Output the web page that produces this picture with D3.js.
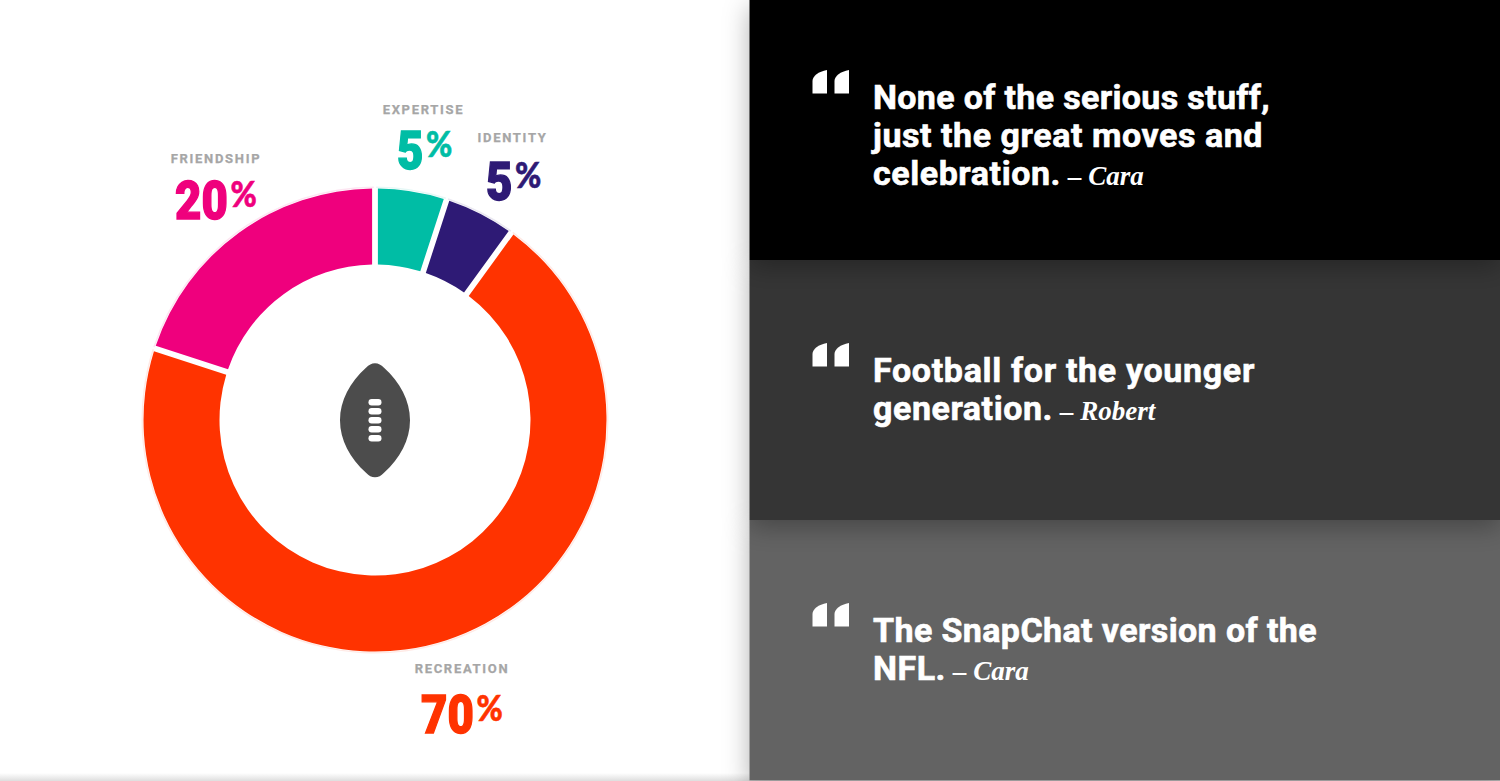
<!DOCTYPE html>
<html>
<head>
<meta charset="utf-8">
<script src="https://cdnjs.cloudflare.com/ajax/libs/d3/7.8.5/d3.min.js"></script>
<style>
  html, body { margin: 0; padding: 0; background: #fff; overflow: hidden; }
  svg { display: block; }
  text { font-family: Roboto, "Liberation Sans", sans-serif; }
</style>
</head>
<body>
<svg id="chart" width="1500" height="781"></svg>
<script>
// Shares of what viewers said the game offers, clockwise from twelve o'clock
const categories = ["EXPERTISE", "IDENTITY", "RECREATION", "FRIENDSHIP"];
const shares = [5, 5, 70, 20];
const sliceColors = ["#00bda5", "#2e1a75", "#ff3300", "#ef007d"];

// Pull quotes: each line of body copy, then the attribution
const quoteLines = [
  ["None of the serious stuff,", "just the great moves and", "celebration."],
  ["Football for the younger", "generation."],
  ["The SnapChat version of the", "NFL."]
];
const quoteAuthors = ["Cara", "Robert", "Cara"];
const panelFills = ["#000000", "#343434", "#646464"];

const svg = d3.select("#chart");
const defs = svg.append("defs");

const shadow = defs.append("filter").attr("id", "panelShadow")
  .attr("x", "-10%").attr("y", "-25%").attr("width", "120%").attr("height", "160%");
shadow.append("feDropShadow").attr("dx", 0).attr("dy", 7).attr("stdDeviation", 13)
  .attr("flood-color", "#000").attr("flood-opacity", 0.3);

// Faint strip along the bottom of the page
const strip = defs.append("linearGradient").attr("id", "footStrip")
  .attr("x1", 0).attr("x2", 0).attr("y1", 0).attr("y2", 1);
strip.append("stop").attr("offset", 0).attr("stop-color", "#fff");
strip.append("stop").attr("offset", 1).attr("stop-color", "#dedede");
svg.append("rect").attr("x", 0).attr("y", 773).attr("width", 750).attr("height", 8)
  .attr("fill", "url(#footStrip)");

// Donut
const cx = 375, cy = 420, outerR = 231.5, innerR = 155.5;
const donut = svg.append("g").attr("transform", `translate(${cx},${cy})`);
const pie = d3.pie().sort(null).value(d => d)(shares);
const arc = d3.arc().innerRadius(innerR).outerRadius(outerR).padAngle(0.025).padRadius(232);

// Hairline halo just outside each slice
const halo = d3.arc().innerRadius(outerR + 0.5).outerRadius(outerR + 2).padAngle(0.01).padRadius(232);
donut.selectAll("path.halo").data(pie).join("path")
  .attr("class", "halo").attr("d", halo)
  .attr("fill", (d, i) => sliceColors[i]).attr("opacity", 0.1);

donut.selectAll("path.slice").data(pie).join("path")
  .attr("class", "slice").attr("d", arc)
  .attr("fill", (d, i) => sliceColors[i]);

// Football in the hole of the donut
const ball = svg.append("g").attr("transform", `translate(${cx},${cy + 0.3})`);
ball.append("path")
  .attr("d", "M0,-57 C3.5,-57 6,-55.5 9,-52.5 C25,-38 35,-20 35,0 C35,20 25,38 9,52.5 C6,55.5 3.5,57 0,57 C-3.5,57 -6,55.5 -9,52.5 C-25,38 -35,20 -35,0 C-35,-20 -25,-38 -9,-52.5 C-6,-55.5 -3.5,-57 0,-57 Z")
  .attr("fill", "#4c4c4c");
ball.selectAll("rect").data(d3.range(5)).join("rect")
  .attr("x", -6.5).attr("width", 13).attr("height", 6.4).attr("rx", 3.2)
  .attr("y", d => -18 + d * 9 - 3.2)
  .attr("fill", "#fff");

// Category captions and percentages, each a numeral plus a raised percent sign
const captionCenters = [[423.5, 114], [512.5, 142], [462, 673], [216, 163]];
const valueOrigins = [[397, 169], [486, 200], [421, 733], [175, 219]];
const narrowing = 0.86;
categories.forEach((name, i) => {
  const [x, yName] = captionCenters[i];
  svg.append("text").attr("x", x).attr("y", yName)
    .attr("text-anchor", "middle")
    .attr("font-size", 13).attr("font-weight", 700)
    .attr("letter-spacing", 1.7).attr("fill", "#a6a6a6")
    .attr("stroke", "#a6a6a6").attr("stroke-width", 0.25)
    .text(name);
  const [vx, vy] = valueOrigins[i];
  const value = svg.append("text")
    .attr("transform", `translate(${vx},${vy}) scale(${narrowing},1)`)
    .attr("font-size", 53).attr("font-weight", 900)
    .attr("fill", sliceColors[i])
    .attr("stroke", sliceColors[i]).attr("stroke-width", 1.4);
  value.append("tspan").text(shares[i]);
  value.append("tspan")
    .style("font-family", "Lato, Roboto, sans-serif")
    .attr("font-size", 37).attr("dx", 3).attr("dy", -12)
    .attr("stroke-width", 0.6)
    .text("%");
});

// Quote panels: bottom one first so each upper panel's shadow falls on the next
const panelTop = [0, 260, 520], panelHeight = [260, 260, 260.5];
[2, 1, 0].forEach(i => {
  svg.append("rect").attr("x", 749.5).attr("y", panelTop[i])
    .attr("width", 750.5).attr("height", panelHeight[i])
    .attr("fill", panelFills[i]).attr("filter", "url(#panelShadow)");
});

const firstBaseline = [109, 382, 642];
const lineGap = 38;
// Set width of each body line, so the copy keeps its measure
const lineWidths = [[397, 390, 188], [382, 180], [444, 73]];
quoteLines.forEach((lines, i) => {
  const g = svg.append("g");
  // Opening quotation mark: two wedge-topped blocks
  const markTop = firstBaseline[i] - 39;
  [812.5, 834.5].forEach(mx => {
    g.append("path")
      .attr("transform", `translate(${mx},${markTop})`)
      .attr("d", "M0,23.5 L0,11 C0,6 6,1.5 14.5,0 L14.5,23.5 Z")
      .attr("fill", "#fff");
  });
  lines.forEach((line, j) => {
    const t = g.append("text").attr("x", 873).attr("y", firstBaseline[i] + j * lineGap)
      .attr("font-size", 34).attr("font-weight", 700).attr("fill", "#fff");
    const body = t.append("tspan").text(line)
      .attr("stroke", "#fff").attr("stroke-width", 0.6);
    const spare = lineWidths[i][j] - body.node().getComputedTextLength();
    body.attr("letter-spacing", spare / line.length);
    if (j === lines.length - 1) {
      t.append("tspan")
        .style("font-family", "'Liberation Serif', serif")
        .attr("font-style", "italic").attr("font-size", 27)
        .attr("dx", 7)
        .text("– " + quoteAuthors[i]);
    }
  });
});
</script>
</body>
</html>
